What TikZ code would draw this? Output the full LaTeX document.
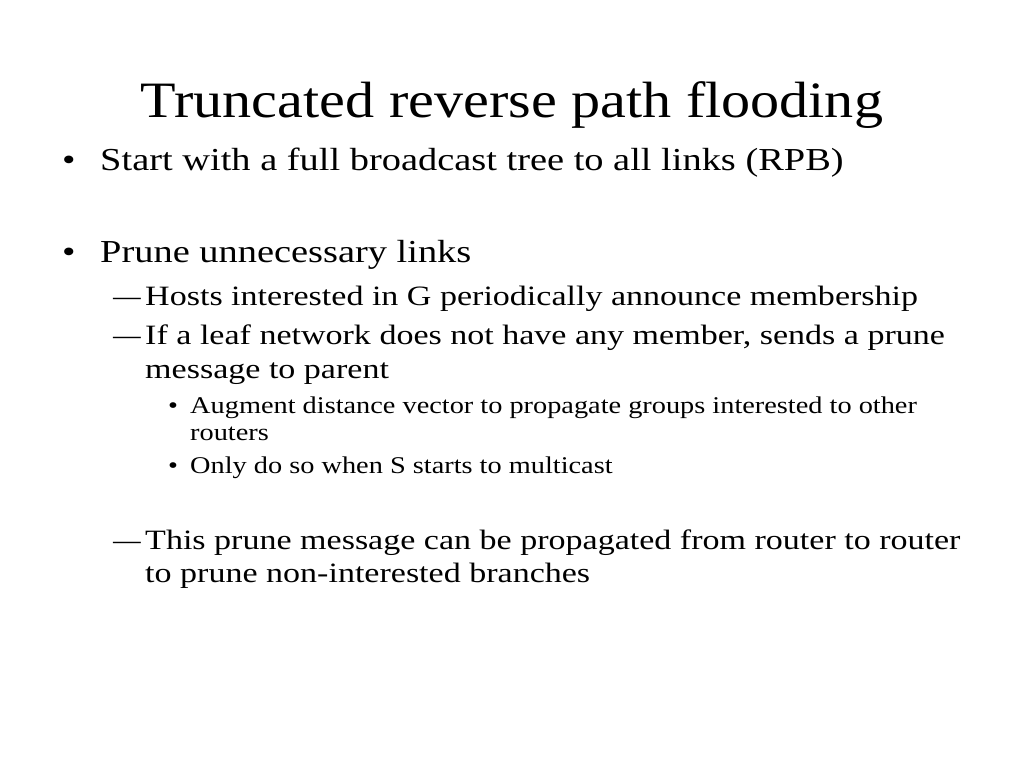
\documentclass[tikz,border=0pt]{standalone}
\usepackage{fontspec}
\setmainfont{Liberation Serif}
\begin{document}
\begin{tikzpicture}[x=1pt,y=-1pt,
  every node/.style={inner sep=0pt,anchor=base west},
  t/.style={font=\fontsize{51}{51}\selectfont,anchor=base,xscale=1.14},
  la/.style={font=\fontsize{32}{32}\selectfont,xscale=1.2},
  lb/.style={font=\fontsize{28}{28}\selectfont,xscale=1.215},
  lc/.style={font=\fontsize{24}{24}\selectfont,xscale=1.18},
  dsh/.style={lb,xscale=1.6}]
\useasboundingbox (0,0) rectangle (1024,768);
\node[t] (title) at (512,117) {Truncated reverse path flooding};
\node[la] (b1) at (62,170) {•};
\node[la] (l1) at (100,170) {Start with a full broadcast tree to all links (RPB)};
\node[la] (b2) at (62,262) {•};
\node[la] (l2) at (100,262) {Prune unnecessary links};
\node[dsh] (d1) at (113,305) {–};
\node[lb] (l3) at (145,305) {Hosts interested in G periodically announce membership};
\node[dsh] (d2) at (113,344) {–};
\node[lb] (l4) at (145,344) {If a leaf network does not have any member, sends a prune};
\node[lb] (l5) at (145,378) {message to parent};
\node[lc] (s1) at (168,413) {•};
\node[lc] (l6) at (190,413) {Augment distance vector to propagate groups interested to other};
\node[lc] (l7) at (190,440) {routers};
\node[lc] (s2) at (168,473) {•};
\node[lc] (l8) at (190,473) {Only do so when S starts to multicast};
\node[dsh] (d3) at (113,549) {–};
\node[lb] (l9) at (145,549) {This prune message can be propagated from router to router};
\node[lb] (l10) at (145,582) {to prune non-interested branches};
\end{tikzpicture}
\end{document}
